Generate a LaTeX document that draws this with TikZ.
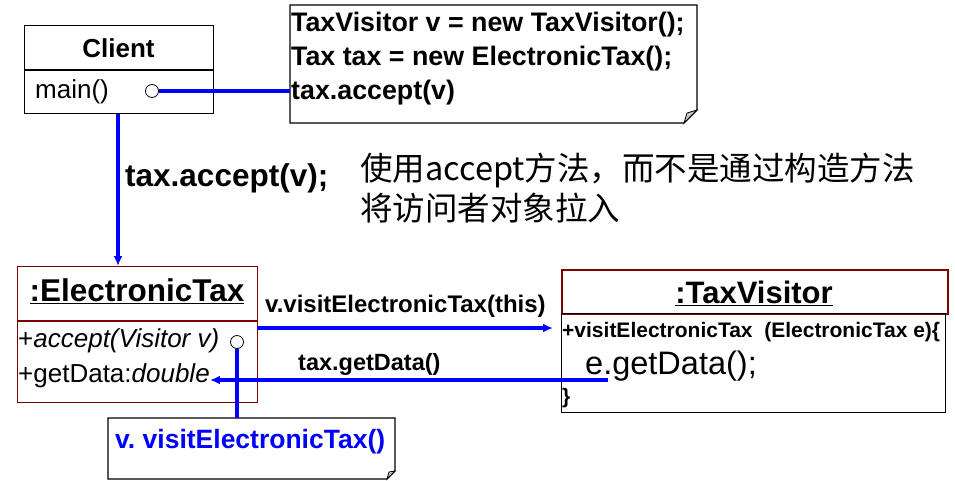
\documentclass[tikz,border=0pt]{standalone}
\usepackage{fontspec}
\setmainfont{Liberation Sans}
\newfontfamily\cjk{Noto Sans CJK SC}
\usetikzlibrary{arrows.meta}
\definecolor{dred}{RGB}{128,0,0}
\definecolor{pblue}{RGB}{0,0,255}
\newcommand\fsz[1]{\fontsize{#1}{#1}\selectfont}
\frenchspacing
\begin{document}
\begin{tikzpicture}[x=1pt,y=-1pt,
  conn/.style={pblue, line width=3.2pt},
  arr/.style={conn,-{Latex[length=10pt,width=9pt]}},
  port/.style={circle, draw=black, fill=white, line width=0.8pt, minimum size=13pt, inner sep=0pt},
  txt/.style={inner sep=0pt, anchor=west},
  box/.style={draw, line width=1.3pt, inner sep=0pt, anchor=north west},
  notebox/.style={inner sep=0pt, anchor=north west},
  fold/.style={draw, line width=0.8pt, fill=gray!45},
]
\useasboundingbox (0,0) rectangle (955,480);

% Client class
\node[box, minimum width=189pt, minimum height=88pt] (client) at (24,25) {};
\draw[line width=1.3pt] (24,70) -- (213,70);
\node[inner sep=0pt, font=\fsz{26}\bfseries] (clientT) at (118.5,48) {Client};
\node[txt, font=\fsz{26}] (mainT) at (35,92) {main()};
\node[port] (p1) at (152,91) {};

% top note
\node[notebox, minimum width=407pt, minimum height=118pt] (note) at (290,5) {};
\draw[line width=1.3pt] (290,5) -- (697,5) -- (697,110) -- (684,123) -- (290,123) -- cycle;
\draw[fold] (684,123) -- (687,113) -- (697,110) -- cycle;
\node[txt, anchor=base west, font=\fsz{26.8}\bfseries] (n1) at (291,31) {TaxVisitor v = new TaxVisitor();};
\node[txt, anchor=base west, font=\fsz{26.8}\bfseries] (n2) at (291,65) {Tax tax = new ElectronicTax();};
\node[txt, anchor=base west, font=\fsz{26.8}\bfseries] (n3) at (291,99) {tax.accept(v)};

\draw[conn] (p1.east) -- (note.west |- p1.east);

% labels in the middle
\node[txt, font=\fsz{31.5}\bfseries] (accL) at (125,178) {tax.accept(v);};
\node[txt, font=\cjk\fsz{32.5}] (cn1) at (360,170) {使用accept方法，而不是通过构造方法};
\node[txt, font=\cjk\fsz{32.5}] (cn2) at (360,208) {将访问者对象拉入};

% ElectronicTax object
\node[box, draw=dred, minimum width=240pt, minimum height=136pt] (et) at (17,266) {};
\draw[dred, line width=1.3pt] (17,321) -- (257,321);
\node[inner sep=0pt, font=\fsz{31.5}\bfseries] (etT) at (137,291) {\underline{:ElectronicTax}};
\node[txt, font=\fsz{26}] (accT) at (18,341) {+\itshape accept(Visitor v)};
\node[txt, font=\fsz{26}] (gdT) at (18,376) {+getData:\itshape double};
\node[port] (p2) at (237,342) {};

\draw[arr] (client.south -| 118,0) -- (118,266);

% TaxVisitor object
\node[box, draw=dred, line width=1.6pt, minimum width=386pt, minimum height=44pt] (tvt) at (561,269) {};
\node[box, minimum width=384pt, minimum height=99pt] (tvb) at (561,313) {};
\node[inner sep=0pt, font=\fsz{31}\bfseries] (tvT) at (754,293) {\underline{:TaxVisitor}};
\node[txt, font=\fsz{21}\bfseries] (vm) at (562,332) {+visitElectronicTax\ \ (ElectronicTax e)\{};
\node[txt, font=\fsz{32.5}] (egd) at (585,366) {e.getData();};
\node[txt, font=\fsz{21}\bfseries] (cb) at (562,398) {\}};
\coordinate (gd) at (608,380);

% messages
\draw[arr, shorten >=8pt] (257,328) -- (tvb.west |- 0,328);
\node[txt, font=\fsz{24}\bfseries] (visL) at (265,306) {v.visitElectronicTax(this)};
\draw[arr] (gd) -- (gdT.east |- gd);
\node[txt, font=\fsz{23.5}\bfseries] (gdL) at (298,364) {tax.getData()};

% bottom note
\node[notebox, minimum width=287pt, minimum height=61pt] (bnote) at (108,418) {};
\draw[line width=1.3pt] (108,418) -- (395,418) -- (395,471) -- (387,479) -- (108,479) -- cycle;
\draw[fold] (387,479) -- (389,472) -- (395,471) -- cycle;
\node[txt, font=\fsz{26.5}\bfseries, text=pblue] (bT) at (115,442) {v. visitElectronicTax()};
\draw[conn] (p2.south) -- (p2.south |- bnote.north);
\end{tikzpicture}
\end{document}
